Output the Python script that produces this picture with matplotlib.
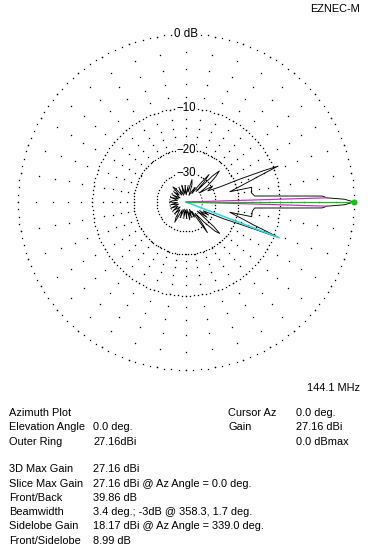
import numpy as np
import matplotlib
matplotlib.use("Agg")
import matplotlib.pyplot as plt

plt.rcParams['font.family'] = ['Liberation Sans', 'DejaVu Sans']

# azimuth pattern, degrees (0 = right, counter-clockwise) and dB below max
pat_az = [0, 1.0, 1.7, 2.5, 3.0, 4.0, 5.0, 8.0, 12.6, 13.2, 16.6, 18.8, 20.3, 21.3,
          22.0, 23.0, 24.0, 27.0, 31.0, 34.0, 37.0, 40.5, 43.0, 44.5, 46.0, 48.0,
          50.0, 52.0, 55.0, 58.0, 61.0, 66.0, 71.0, 75.0, 78.0, 83.0, 88.0, 93.0,
          98.0, 104.0, 110.0, 116.0, 122.0, 128.0, 131.0, 135.0, 140.0, 146.0,
          152.0, 158.0, 163.0, 169.0, 175.0, 180.0,
          184.0, 190.0, 196.0, 202.0, 208.0, 214.0, 220.0, 226.0, 232.0, 237.0,
          241.0, 245.0, 250.0, 256.0, 262.0, 267.0, 272.0, 277.0, 282.0, 286.0,
          290.0, 295.0, 299.0, 302.0, 305.0, 307.0, 309.0, 312.0, 315.0, 317.0,
          318.5, 321.0, 324.0, 327.0, 330.0, 333.0, 336.0, 337.7, 339.0, 340.0,
          341.2, 343.4, 346.8, 347.4, 352.0, 355.0, 356.0, 357.0, 357.5, 358.3,
          359.0, 360.0]
pat_db = [0, -1.0, -3.0, -3.6, -6.6, -11.5, -15.3, -16.0, -15.7, -22.6, -18.1, -14.6, -11.6, -9.1,
          -12.0, -18.0, -26.0, -33.0, -29.0, -40.0, -31.0, -25.0, -22.4, -26.0, -42.0, -31.0,
          -26.5, -33.0, -48.0, -39.0, -44.0, -54.0, -38.0, -34.0, -48.0, -41.0, -54.0, -40.0,
          -52.0, -39.0, -54.0, -41.0, -52.0, -39.0, -36.5, -49.0, -41.0, -54.0,
          -41.0, -52.0, -40.0, -51.0, -43.0, -39.86,
          -51.0, -41.0, -53.0, -40.0, -50.0, -41.0, -53.0, -40.0, -49.0, -38.0,
          -34.0, -51.0, -40.0, -54.0, -41.0, -52.0, -40.0, -54.0, -38.0, -48.0,
          -40.0, -52.0, -39.0, -47.0, -25.8, -31.0, -42.0, -31.0, -24.0, -22.2,
          -26.0, -42.0, -32.0, -39.0, -32.0, -37.0, -24.0, -18.0, -8.99, -11.6,
          -14.6, -18.1, -22.6, -15.7, -15.8, -15.3, -11.5, -6.6, -3.6, -3.0,
          -1.0, 0]

ring_db = [0, -10, -20, -30]
ring_labels = ["0 dB", "\u221210", "\u221220", "\u221230"]
cursor_az, cursor_db = 0.0, 0.0
bw_az = [1.7, 358.3]
bw_db = -3.0
side_az, side_db = 339.0, -8.99

info_left = [("Azimuth Plot", ""), ("Elevation Angle", "0.0 deg."), ("Outer Ring", "27.16dBi")]
info_right = [("Cursor Az", "0.0 deg."), ("Gain", "27.16 dBi"), ("", "0.0 dBmax")]
info_bottom = [("3D Max Gain", "27.16 dBi"),
               ("Slice Max Gain", "27.16 dBi @ Az Angle = 0.0 deg."),
               ("Front/Back", "39.86 dB"),
               ("Beamwidth", "3.4 deg.; -3dB @ 358.3, 1.7 deg."),
               ("Sidelobe Gain", "18.17 dBi @ Az Angle = 339.0 deg."),
               ("Front/Sidelobe", "8.99 dB")]


def arrl(db):
    # ARRL log scale: 0.89 per 2 dB
    return 0.89 ** (-np.asarray(db, dtype=float) / 2.0)


W, H = 376, 555
fig = plt.figure(figsize=(W / 72, H / 72), dpi=72)
fig.patch.set_facecolor('white')

cx, cy, R = 186, 202, 168
ax = fig.add_axes([(cx - R) / W, (H - cy - R) / H, 2 * R / W, 2 * R / H], projection='polar')
ax.set_theta_zero_location('E')
ax.set_theta_direction(1)
ax.set_ylim(0, 1)
ax.set_axis_off()

# grid: dotted rings
for db, step in zip(ring_db, [2.5, 2.5, 3.4, 6.0]):
    t = np.deg2rad(np.arange(0, 360, step))
    ax.plot(t, np.full(t.shape, arrl(db)), ls='none', marker='s', ms=1.3, mew=0,
            color='black', clip_on=False)
# dashed ring at -40
t = np.linspace(0, 2 * np.pi, 200)
ax.plot(t, np.full(t.shape, arrl(-40)), color='black', lw=0.8, ls=(0, (2, 2)))
# dotted spokes every 10 deg, one dot every 2 dB
for a in range(0, 360, 10):
    rr = arrl(np.arange(0, -21, -2))
    ax.plot(np.full(rr.shape, np.deg2rad(a)), rr, ls='none', marker='s', ms=1.3,
            mew=0, color='black', clip_on=False)

# pattern
ax.plot(np.deg2rad(pat_az), arrl(pat_db), color='black', lw=0.9, clip_on=False)

# -3 dB lines, sidelobe line, cursor line
for a in bw_az:
    ax.plot([0, np.deg2rad(a)], [0, arrl(bw_db)], color='#c030c0', lw=1.2)
ax.plot([0, np.deg2rad(side_az)], [0, arrl(side_db)], color='#30d8e0', lw=1.6)
ax.plot([0, np.deg2rad(cursor_az)], [0, arrl(cursor_db)], color='#10c010', lw=1.2,
        clip_on=False)
ax.plot([np.deg2rad(cursor_az)], [arrl(cursor_db)], 'o', color='#10c010', ms=5,
        clip_on=False)

for db, lab in zip(ring_db, ring_labels):
    ax.text(np.pi / 2, arrl(db), lab, ha='center', va='center', fontsize=11.5,
            bbox=dict(facecolor='white', edgecolor='none', pad=0.3))


def txt(x, y, s, **kw):
    fig.text(x / W, 1 - y / H, s, va='center', fontsize=11, **kw)


txt(360, 9, "EZNEC-M", ha='right')
txt(360, 388, "144.1 MHz", ha='right')
for i, (a, b) in enumerate(info_left):
    y = 413 + i * 14.3
    txt(9, y, a)
    txt(93, y, b)
for i, (a, b) in enumerate(info_right):
    y = 413 + i * 14.3
    txt(228, y, a)
    txt(296, y, b)
for i, (a, b) in enumerate(info_bottom):
    y = 469.5 + i * 14.2
    txt(9, y, a)
    txt(93, y, b)

fig.savefig("out.png", dpi=72, facecolor='white')
